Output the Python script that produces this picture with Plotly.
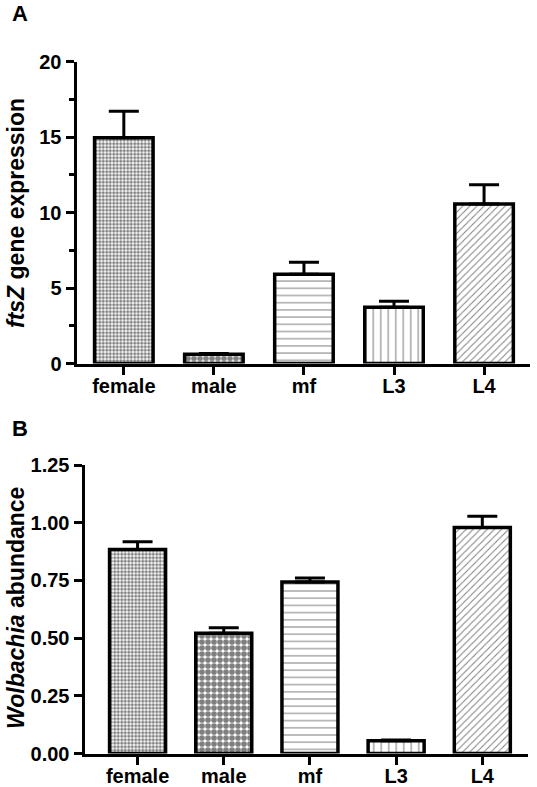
import plotly.graph_objects as go

categories = ["female", "male", "mf", "L3", "L4"]

# Panel A: ftsZ gene expression
ftsz_values = [14.95, 0.62, 5.91, 3.72, 10.56]
ftsz_errors = [1.75, 0.05, 0.80, 0.40, 1.27]
ftsz_ticks = [0, 5, 10, 15, 20]

# Panel B: Wolbachia abundance
wol_values = [0.884, 0.521, 0.743, 0.055, 0.979]
wol_errors = [0.033, 0.024, 0.017, 0.004, 0.049]
wol_ticks = [0, 0.25, 0.5, 0.75, 1.0, 1.25]

# pattern per category
pat_shapes = [".", ".", "-", "|", "/"]
pat_sizes = [3.5, 6, 7.2, 7.5, 5]
pat_solid = [0.6, 0.7, 0.14, 0.14, 0.2]

FONT = "Liberation Sans, Arial, sans-serif"
W, H = 537, 787


def px_x(p):
    return p / W


def px_y(p):
    return 1 - p / H


fig = go.Figure()

for i, cat in enumerate(categories):
    for vals, errs, xa, ya in ((ftsz_values, ftsz_errors, "x", "y"),
                               (wol_values, wol_errors, "x2", "y2")):
        fig.add_trace(go.Bar(
            x=[cat], y=[vals[i]],
            xaxis=xa, yaxis=ya,
            width=0.65,
            marker=dict(
                color="white",
                line=dict(color="black", width=3.5),
                pattern=dict(shape=pat_shapes[i], size=pat_sizes[i],
                             solidity=pat_solid[i], fgcolor="black",
                             bgcolor="white", fillmode="overlay"),
            ),
            error_y=dict(type="data", symmetric=False, array=[errs[i]],
                         arrayminus=[0], color="black", thickness=3, width=15),
            showlegend=False, hoverinfo="skip",
        ))

tickfont = dict(family=FONT, size=20, color="black", weight="bold")

common_x = dict(
    type="category", categoryorder="array", categoryarray=categories,
    showline=True, linecolor="black", linewidth=3.5,
    ticks="outside", ticklen=8, tickwidth=3, tickcolor="black",
    ticklabelstandoff=-6,
    showgrid=False, zeroline=False, tickfont=tickfont, automargin=False,
)
common_y = dict(
    showline=True, linecolor="black", linewidth=3.5,
    ticks="outside", ticklen=8, tickwidth=3, tickcolor="black",
    showgrid=False, zeroline=False, tickfont=tickfont, automargin=False,
)

title_font = dict(family=FONT, size=23, color="black", weight="bold")
letter_font = dict(family=FONT, size=22, color="black", weight="bold")

fig.update_layout(
    template="none",
    width=W, height=H,
    margin=dict(l=0, r=0, t=0, b=0, pad=0),
    paper_bgcolor="white", plot_bgcolor="white",
    barmode="overlay",
    xaxis=dict(common_x, domain=[px_x(77), px_x(530)], range=[-0.52, 4.51],
               anchor="y"),
    yaxis=dict(common_y, domain=[px_y(363.5), px_y(61.5)], range=[0, 20],
               tickvals=ftsz_ticks, anchor="x",
               minor=dict(dtick=2.5, ticks="outside", ticklen=5, tickwidth=3,
                          tickcolor="black", showgrid=False)),
    xaxis2=dict(common_x, domain=[px_x(85), px_x(528)], range=[-0.61, 4.53],
                anchor="y2"),
    yaxis2=dict(common_y, domain=[px_y(753.5), px_y(465)], range=[0, 1.25],
                tickvals=wol_ticks, tickformat=".2f", anchor="x2"),
    annotations=[
        dict(text="<i>ftsZ</i> gene expression", xref="paper", yref="paper",
             x=px_x(16), y=px_y(213), xanchor="center", yanchor="middle",
             textangle=-90, showarrow=False, font=title_font),
        dict(text="<i>Wolbachia</i> abundance", xref="paper", yref="paper",
             x=px_x(16), y=px_y(608), xanchor="center", yanchor="middle",
             textangle=-90, showarrow=False, font=title_font),
        dict(text="A", xref="paper", yref="paper",
             x=px_x(20), y=px_y(14), xanchor="center", yanchor="middle",
             showarrow=False, font=letter_font),
        dict(text="B", xref="paper", yref="paper",
             x=px_x(20), y=px_y(428), xanchor="center", yanchor="middle",
             showarrow=False, font=letter_font),
    ],
)

fig.write_html(
    "out.html",
    config={"displayModeBar": False, "staticPlot": True},
    post_script="document.body.style.margin='0';document.body.style.padding='0';",
)
